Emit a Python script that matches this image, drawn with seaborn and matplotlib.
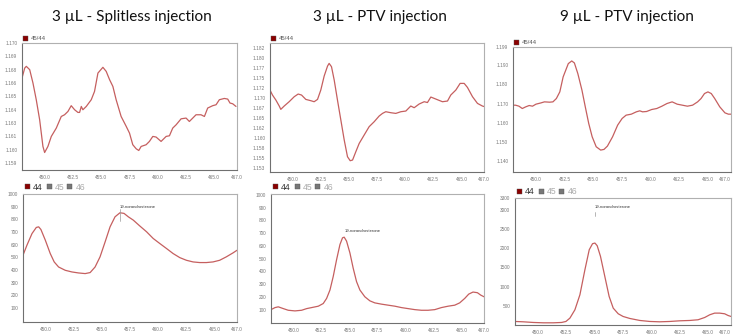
import matplotlib
matplotlib.use("Agg")
import matplotlib.pyplot as plt
from matplotlib.patches import Rectangle
import seaborn as sns
import pandas as pd

W, H = 734, 334

# ---------------- data ----------------
titles = ["3 \u00b5L - Splitless injection", "3 \u00b5L - PTV injection", "9 \u00b5L - PTV injection"]

x_ticks = [450.0, 452.5, 455.0, 457.5, 460.0, 462.5, 465.0, 467.0]
x_ticklabels = ["450.0", "452.5", "455.0", "457.5", "460.0", "462.5", "465.0", "467.0"]

# ratio 45/44 traces (top row)
top1_pts = [(448.0, 1.16671), (448.24, 1.16765), (448.38, 1.16781), (448.68, 1.16750), (448.97, 1.16624),
            (449.26, 1.16468), (449.56, 1.16280), (449.85, 1.16030), (450.0, 1.15973), (450.29, 1.16030),
            (450.59, 1.16124), (451.03, 1.16202), (451.47, 1.16311), (451.76, 1.16327), (452.06, 1.16358),
            (452.35, 1.16412), (452.65, 1.16374), (452.94, 1.16349), (453.09, 1.16349), (453.24, 1.16405),
            (453.38, 1.16374), (453.68, 1.16405), (454.12, 1.16468), (454.41, 1.16546), (454.71, 1.16718),
            (455.15, 1.16772), (455.44, 1.16734), (455.74, 1.16656), (456.03, 1.16593), (456.32, 1.16468),
            (456.76, 1.16311), (457.21, 1.16218), (457.50, 1.16155), (457.79, 1.16046), (458.09, 1.16008),
            (458.32, 1.15992), (458.53, 1.16030), (458.97, 1.16046), (459.26, 1.16077), (459.56, 1.16124),
            (459.85, 1.16118), (460.29, 1.16077), (460.74, 1.16124), (461.03, 1.16130), (461.32, 1.16202),
            (461.62, 1.16233), (462.06, 1.16289), (462.50, 1.16296), (462.79, 1.16264), (463.09, 1.16296),
            (463.38, 1.16327), (463.82, 1.16327), (464.12, 1.16311), (464.41, 1.16390), (464.85, 1.16412),
            (465.15, 1.16421), (465.44, 1.16468), (465.88, 1.16480), (466.18, 1.16474), (466.38, 1.16437),
            (466.62, 1.16430), (466.91, 1.16405)]

top2_pts = [(448.0, 1.17192), (448.22, 1.17067), (448.52, 1.16942), (448.82, 1.16792), (448.96, 1.16709),
            (449.26, 1.16792), (449.70, 1.16900), (450.15, 1.17025), (450.50, 1.17092), (450.80, 1.17067),
            (451.18, 1.16958), (451.63, 1.16925), (451.92, 1.16900), (452.22, 1.16958), (452.51, 1.17192),
            (452.81, 1.17542), (453.11, 1.17792), (453.25, 1.17858), (453.46, 1.17775), (453.70, 1.17442),
            (453.99, 1.16942), (454.29, 1.16442), (454.59, 1.15942), (454.88, 1.15525), (455.12, 1.15425),
            (455.33, 1.15442), (455.62, 1.15650), (455.92, 1.15858), (456.36, 1.16067), (456.80, 1.16275),
            (457.25, 1.16400), (457.69, 1.16542), (457.99, 1.16608), (458.28, 1.16650), (458.73, 1.16625),
            (459.17, 1.16608), (459.62, 1.16650), (460.06, 1.16667), (460.50, 1.16792), (460.80, 1.16750),
            (461.24, 1.16842), (461.69, 1.16900), (461.98, 1.16880), (462.28, 1.17017), (462.72, 1.16967),
            (463.31, 1.16900), (463.76, 1.16917), (464.05, 1.17067), (464.50, 1.17192), (464.88, 1.17358),
            (465.24, 1.17358), (465.53, 1.17258), (465.98, 1.17025), (466.42, 1.16858), (466.86, 1.16792),
            (467.0, 1.16780)]

top3_pts = [(448.0, 1.16914), (448.22, 1.16914), (448.52, 1.16862), (448.81, 1.16741), (449.11, 1.16828),
            (449.41, 1.16897), (449.70, 1.16862), (450.0, 1.16966), (450.45, 1.17034), (450.74, 1.17086),
            (451.19, 1.17069), (451.48, 1.17086), (451.78, 1.17259), (452.08, 1.17603), (452.37, 1.18379),
            (452.82, 1.19069), (453.12, 1.19207), (453.35, 1.19103), (453.65, 1.18552), (454.01, 1.17690),
            (454.30, 1.16828), (454.60, 1.15966), (454.90, 1.15276), (455.25, 1.14759), (455.64, 1.14586),
            (455.93, 1.14621), (456.23, 1.14793), (456.68, 1.15276), (457.12, 1.15879), (457.51, 1.16224),
            (457.86, 1.16397), (458.31, 1.16448), (458.75, 1.16569), (459.05, 1.16621), (459.29, 1.16569),
            (459.64, 1.16586), (460.09, 1.16690), (460.53, 1.16741), (460.98, 1.16862), (461.42, 1.17000),
            (461.87, 1.17086), (462.31, 1.16966), (462.76, 1.16914), (463.20, 1.16862), (463.65, 1.16914),
            (464.09, 1.17086), (464.39, 1.17259), (464.69, 1.17517), (464.99, 1.17603), (465.28, 1.17517),
            (465.58, 1.17259), (466.02, 1.16828), (466.47, 1.16517), (466.77, 1.16448), (467.0, 1.16448)]

# m/z 44 traces (bottom row)
bot1_pts = [(448.0, 517), (448.35, 596), (448.80, 688), (449.18, 736), (449.39, 741), (449.59, 720),
            (449.98, 636), (450.42, 530), (450.77, 464), (451.16, 424), (451.75, 398), (452.34, 385),
            (452.93, 377), (453.52, 372), (453.96, 380), (454.40, 424), (454.84, 504), (455.29, 622),
            (455.73, 741), (456.17, 820), (456.61, 852), (456.97, 847), (457.35, 820), (457.79, 794),
            (458.38, 747), (458.97, 702), (459.56, 649), (460.15, 609), (460.74, 570), (461.33, 530),
            (461.92, 498), (462.51, 477), (463.10, 464), (463.69, 459), (464.28, 459), (464.87, 464),
            (465.46, 477), (466.05, 504), (466.64, 535), (467.0, 556)]

bot2_pts = [(448.0, 100), (448.36, 116), (448.65, 122), (449.10, 108), (449.54, 95), (450.14, 90),
            (450.73, 95), (451.18, 108), (451.62, 116), (452.22, 127), (452.66, 148), (452.96, 188),
            (453.26, 254), (453.55, 360), (453.85, 492), (454.15, 611), (454.38, 664), (454.53, 669),
            (454.74, 638), (455.04, 545), (455.33, 426), (455.63, 320), (455.93, 254), (456.37, 201),
            (456.82, 169), (457.26, 153), (457.86, 143), (458.45, 135), (459.05, 127), (459.64, 116),
            (460.23, 108), (460.83, 100), (461.42, 95), (462.01, 95), (462.61, 100), (463.20, 116),
            (463.80, 127), (464.39, 135), (464.83, 153), (465.28, 188), (465.64, 222), (466.02, 238),
            (466.41, 233), (466.71, 214), (467.0, 201)]

bot3_pts = [(448.0, 92), (448.73, 83), (449.61, 66), (450.49, 57), (451.37, 57), (452.10, 66),
            (452.48, 92), (452.83, 179), (453.27, 396), (453.71, 787), (454.15, 1438), (454.53, 1958),
            (454.82, 2115), (455.03, 2132), (455.23, 2063), (455.52, 1785), (455.90, 1264), (456.28, 743),
            (456.64, 439), (457.08, 292), (457.51, 222), (458.10, 170), (458.98, 118), (459.86, 92),
            (460.73, 83), (461.61, 92), (462.49, 109), (463.37, 118), (464.10, 136), (464.69, 196),
            (465.13, 266), (465.56, 309), (466.00, 309), (466.44, 292), (466.74, 248), (467.0, 222)]

top_yticks = [
    [1.170, 1.16875, 1.1675, 1.16625, 1.165, 1.16375, 1.1625, 1.16125, 1.160, 1.15875],
    [1.1825, 1.180, 1.1775, 1.175, 1.1725, 1.170, 1.1675, 1.165, 1.1625, 1.160, 1.1575, 1.155, 1.1525],
    [1.1993, 1.190, 1.180, 1.170, 1.160, 1.150, 1.140],
]
top_yticklabels = [
    ["1.170", "1.169", "1.168", "1.166", "1.165", "1.164", "1.163", "1.161", "1.160", "1.159"],
    ["1.182", "1.180", "1.177", "1.175", "1.172", "1.170", "1.167", "1.165", "1.162", "1.160", "1.158", "1.155", "1.153"],
    ["1.199", "1.190", "1.180", "1.170", "1.160", "1.150", "1.140"],
]
top_ylims = [(1.15809, 1.170), (1.15143, 1.18368), (1.1345, 1.1993)]

bot_yticks = [
    [100, 200, 300, 400, 500, 600, 700, 800, 900, 1000],
    [100, 200, 300, 400, 500, 600, 700, 800, 900, 1000],
    [500, 1000, 1500, 2000, 2500, 3000, 3300],
]
bot_yticklabels = [[str(v) for v in t] for t in bot_yticks]
bot_ylims = [(-10, 1000), (-5, 1008), (0, 3304)]

peak_name = "19-norandrosterone"
ann_x = [456.62, 454.55, 455.0]
ann_y = [885, 700, 3010]
ann_line = [(790, 880), None, (2830, 2930)]

top_legend = "45/44"
bot_legend = ["44", "45", "46"]

# ---------------- layout (pixels: left, top, right, bottom) ----------------
top_boxes = [(22, 43, 237, 170), (270, 43, 484, 172), (513, 47, 731, 172)]
bot_boxes = [(23, 194, 237, 322), (271, 194, 484, 323), (515, 198, 731, 325)]
title_cx = [132, 380, 627]

LINE = "#c55f5f"
DARKRED = "#8b0000"

sns.set_theme(style="white")
plt.rcParams['font.family'] = ['Liberation Sans', 'DejaVu Sans']

fig = plt.figure(figsize=(W / 100, H / 100), dpi=100)
fig.patch.set_facecolor("white")


def add_px_axes(box):
    l, t, r, b = box
    return fig.add_axes([l / W, 1 - b / H, (r - l) / W, (b - t) / H])


def fx(px):
    return px / W


def fy(py):
    return 1 - py / H


def style(ax, yticks, ylabels, ylim, last_right=False):
    ax.set_xlim(448.0, 467.0)
    ax.set_ylim(*ylim)
    ax.set_xticks(x_ticks)
    ax.set_xticklabels(x_ticklabels)
    ax.set_yticks(yticks)
    ax.set_yticklabels(ylabels)
    ax.set_xlabel("")
    ax.set_ylabel("")
    ax.tick_params(axis="both", which="both", labelsize=3.4, colors="#555555",
                   length=2, width=0.5, pad=1.5, direction="out")
    ax.tick_params(axis="both", labelcolor="#777777")
    if last_right:
        ax.get_xticklabels()[-1].set_ha("right")
    for side in ["top", "right"]:
        ax.spines[side].set_color("#b0b0b0")
        ax.spines[side].set_linewidth(0.8)
    for side in ["left", "bottom"]:
        ax.spines[side].set_color("#707070")
        ax.spines[side].set_linewidth(0.8)
    ax.set_facecolor("white")
    ax.grid(False)


def square(px, py, size=5, color=DARKRED):
    fig.add_artist(Rectangle((fx(px), fy(py + size / 2)), size / W, size / H,
                             transform=fig.transFigure, facecolor=color,
                             edgecolor="#555555", linewidth=0.3))


top_data = [top1_pts, top2_pts, top3_pts]
bot_data = [bot1_pts, bot2_pts, bot3_pts]

for i in range(3):
    # title
    fig.text(fx(title_cx[i]), fy(17), titles[i], ha="center", va="center",
             fontsize=11, family=["Lato", "DejaVu Sans"], color="#111111")

    # top ratio panel
    ax = add_px_axes(top_boxes[i])
    df = pd.DataFrame(top_data[i], columns=["time", "ratio"])
    sns.lineplot(data=df, x="time", y="ratio", ax=ax, color=LINE, linewidth=0.9)
    style(ax, top_yticks[i], top_yticklabels[i], top_ylims[i], last_right=(i == 2))
    l, t, r, b = top_boxes[i]
    square(l + 1, t - 5)
    fig.text(fx(l + 9), fy(t - 5), top_legend, ha="left", va="center",
             fontsize=4.3, color="#555555")

    # bottom m/z 44 panel
    ax = add_px_axes(bot_boxes[i])
    df = pd.DataFrame(bot_data[i], columns=["time", "intensity"])
    sns.lineplot(data=df, x="time", y="intensity", ax=ax, color=LINE, linewidth=0.9)
    style(ax, bot_yticks[i], bot_yticklabels[i], bot_ylims[i], last_right=(i == 2))
    ax.text(ann_x[i], ann_y[i], peak_name, fontsize=3.0, color="#333333",
            ha="left", va="bottom")
    if ann_line[i] is not None:
        ax.plot([ann_x[i], ann_x[i]], list(ann_line[i]), color="#999999", lw=0.5)

    l, t, r, b = bot_boxes[i]
    ly = t - 7
    offs = [(2, 10), (24, 32), (44, 53)]
    for k, (so, to) in enumerate(offs):
        square(l + so, ly, color=DARKRED if k == 0 else "#777777")
        fig.text(fx(l + to), fy(ly), bot_legend[k], ha="left", va="center",
                 fontsize=6.2, color="#333333" if k == 0 else "#aaaaaa")

fig.savefig("out.png", dpi=100, facecolor="white")
